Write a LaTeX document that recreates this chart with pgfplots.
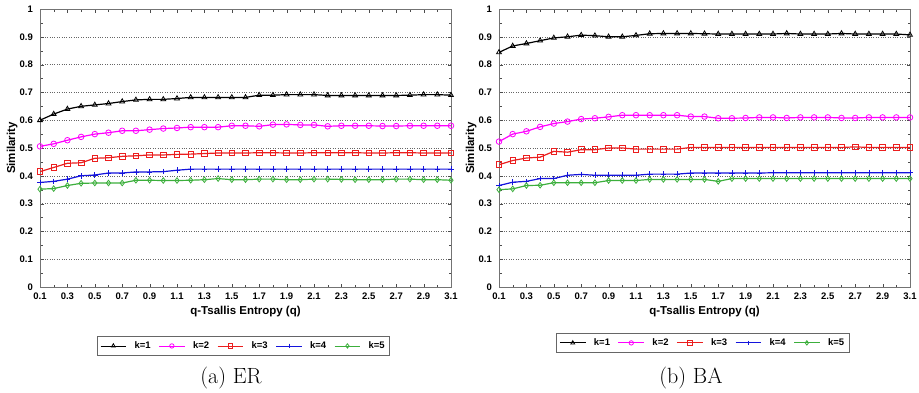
\documentclass[border=0pt]{standalone}
\usepackage{pgfplots}
\pgfplotsset{compat=1.18}
\usepackage{pgfplotstable}
\usepackage{fontspec}
\newfontfamily\arial{Liberation Sans}
\definecolor{mgreen}{RGB}{60,175,60}
\definecolor{mmag}{RGB}{255,0,255}
\definecolor{mred}{RGB}{235,30,30}
\definecolor{mblue}{RGB}{20,20,220}

\pgfplotstableread{
q k1 k2 k3 k4 k5
0.1 0.600 0.506 0.415 0.376 0.352
0.2 0.622 0.515 0.430 0.380 0.354
0.3 0.640 0.528 0.445 0.388 0.365
0.4 0.650 0.540 0.447 0.400 0.373
0.5 0.655 0.550 0.463 0.403 0.374
0.6 0.660 0.555 0.465 0.410 0.374
0.7 0.667 0.562 0.470 0.410 0.374
0.8 0.673 0.562 0.472 0.414 0.384
0.9 0.675 0.566 0.475 0.414 0.384
1.0 0.675 0.570 0.475 0.415 0.383
1.1 0.678 0.572 0.477 0.420 0.383
1.2 0.682 0.575 0.478 0.424 0.384
1.3 0.682 0.575 0.480 0.424 0.386
1.4 0.682 0.575 0.482 0.424 0.390
1.5 0.682 0.580 0.482 0.424 0.386
1.6 0.682 0.580 0.482 0.424 0.386
1.7 0.690 0.578 0.483 0.424 0.388
1.8 0.690 0.584 0.483 0.424 0.388
1.9 0.692 0.585 0.482 0.424 0.386
2.0 0.692 0.583 0.482 0.424 0.386
2.1 0.692 0.583 0.483 0.424 0.388
2.2 0.689 0.578 0.483 0.424 0.388
2.3 0.689 0.580 0.483 0.424 0.387
2.4 0.689 0.580 0.483 0.424 0.386
2.5 0.689 0.580 0.482 0.424 0.386
2.6 0.689 0.579 0.482 0.424 0.386
2.7 0.689 0.579 0.483 0.424 0.388
2.8 0.690 0.580 0.483 0.424 0.388
2.9 0.692 0.580 0.482 0.424 0.386
3.0 0.692 0.580 0.482 0.424 0.386
3.1 0.690 0.580 0.482 0.424 0.384
}\ertable

\pgfplotstableread{
q k1 k2 k3 k4 k5
0.1 0.844 0.523 0.440 0.365 0.350
0.2 0.867 0.550 0.455 0.377 0.353
0.3 0.876 0.560 0.464 0.380 0.365
0.4 0.886 0.576 0.467 0.390 0.366
0.5 0.896 0.588 0.488 0.390 0.375
0.6 0.900 0.595 0.485 0.402 0.375
0.7 0.906 0.604 0.494 0.405 0.375
0.8 0.904 0.607 0.494 0.402 0.375
0.9 0.900 0.612 0.500 0.402 0.383
1.0 0.900 0.618 0.500 0.402 0.383
1.1 0.905 0.618 0.496 0.402 0.383
1.2 0.911 0.618 0.496 0.406 0.387
1.3 0.912 0.618 0.496 0.406 0.387
1.4 0.912 0.618 0.496 0.406 0.387
1.5 0.912 0.613 0.502 0.410 0.387
1.6 0.911 0.613 0.502 0.410 0.387
1.7 0.910 0.607 0.502 0.410 0.380
1.8 0.910 0.607 0.502 0.410 0.390
1.9 0.910 0.608 0.502 0.410 0.390
2.0 0.910 0.610 0.502 0.410 0.390
2.1 0.910 0.610 0.502 0.411 0.390
2.2 0.912 0.608 0.502 0.411 0.390
2.3 0.910 0.610 0.502 0.411 0.390
2.4 0.910 0.610 0.502 0.411 0.390
2.5 0.910 0.610 0.502 0.411 0.390
2.6 0.912 0.608 0.502 0.411 0.390
2.7 0.910 0.608 0.504 0.411 0.390
2.8 0.910 0.610 0.502 0.411 0.390
2.9 0.910 0.610 0.502 0.411 0.390
3.0 0.910 0.610 0.502 0.411 0.390
3.1 0.907 0.610 0.502 0.411 0.390
}\batable

\pgfplotsset{
  mystyle/.style={
    scale only axis, width=411pt, height=278pt,
    xmin=0.1, xmax=3.1, ymin=0, ymax=1,
    xtick={0.1,0.3,0.5,0.7,0.9,1.1,1.3,1.5,1.7,1.9,2.1,2.3,2.5,2.7,2.9,3.1},
    xticklabels={0.1,0.3,0.5,0.7,0.9,1.1,1.3,1.5,1.7,1.9,2.1,2.3,2.5,2.7,2.9,3.1},
    ytick={0,0.1,...,1.0},
    yticklabels={0,0.1,0.2,0.3,0.4,0.5,0.6,0.7,0.8,0.9,1},
    minor x tick num=1, minor y tick num=1,
    major tick length=3.5pt, minor tick length=2.5pt,
    tick style={black!70},
    axis line style={black!55, line width=0.9pt},
    ymajorgrids, major grid style={black!60, dotted, line width=0.6pt},
    ticklabel style={font=\arial\bfseries\fontsize{9.5}{10}\selectfont, inner sep=0pt},
    xticklabel style={anchor=center, yshift=-9pt},
    yticklabel style={anchor=east, xshift=-7pt},
    xlabel={\arial\bfseries\fontsize{11.5}{12}\selectfont q-Tsallis Entropy (q)},
    ylabel={\arial\bfseries\fontsize{11.5}{12}\selectfont Similarity},
    every axis x label/.style={at={(axis description cs:0.5,-0.09)}, anchor=center},
    every axis y label/.style={at={(axis description cs:-0.068,0.5)}, rotate=90, anchor=center},
    legend columns=5,
    legend style={font=\arial\bfseries\fontsize{9.5}{10}\selectfont, draw=black!60, line width=0.8pt,
      inner xsep=3pt, inner ysep=3pt, column sep=6pt, anchor=center},
    legend image code/.code={\draw[mark repeat=2,mark phase=2] plot coordinates {(0cm,0cm)(0.45cm,0cm)(0.9cm,0cm)};},
    legend image post style={line width=0.8pt, mark size=2.2pt},
    every axis plot/.append style={line width=1.2pt, mark size=2.8pt, mark options={solid, line width=0.8pt}},
  }
}

\begin{document}
\begin{tikzpicture}[x=1pt,y=1pt]
\useasboundingbox (0,0) rectangle (919,392);
\begin{axis}[mystyle, at={(40pt,105pt)}, anchor=south west,
  legend style={at={(0.495,-0.212)}}]
\addplot[black, mark=triangle] table[x=q,y=k1]{\ertable};
\addplot[mmag, mark=o] table[x=q,y=k2]{\ertable};
\addplot[mred, mark=square] table[x=q,y=k3]{\ertable};
\addplot[mblue, mark=+] table[x=q,y=k4]{\ertable};
\addplot[mgreen, mark=diamond] table[x=q,y=k5]{\ertable};
\legend{k=1,k=2,k=3,k=4,k=5}
\end{axis}
\begin{axis}[mystyle, at={(499pt,105pt)}, anchor=south west,
  legend style={at={(0.496,-0.201)}}]
\addplot[black, mark=triangle] table[x=q,y=k1]{\batable};
\addplot[mmag, mark=o] table[x=q,y=k2]{\batable};
\addplot[mred, mark=square] table[x=q,y=k3]{\batable};
\addplot[mblue, mark=+] table[x=q,y=k4]{\batable};
\addplot[mgreen, mark=diamond] table[x=q,y=k5]{\batable};
\legend{k=1,k=2,k=3,k=4,k=5}
\end{axis}
\node[font=\fontsize{22}{24}\selectfont] at (231,14) {(a) ER};
\node[font=\fontsize{22}{24}\selectfont] at (691,14) {(b) BA};
\end{tikzpicture}
\end{document}
